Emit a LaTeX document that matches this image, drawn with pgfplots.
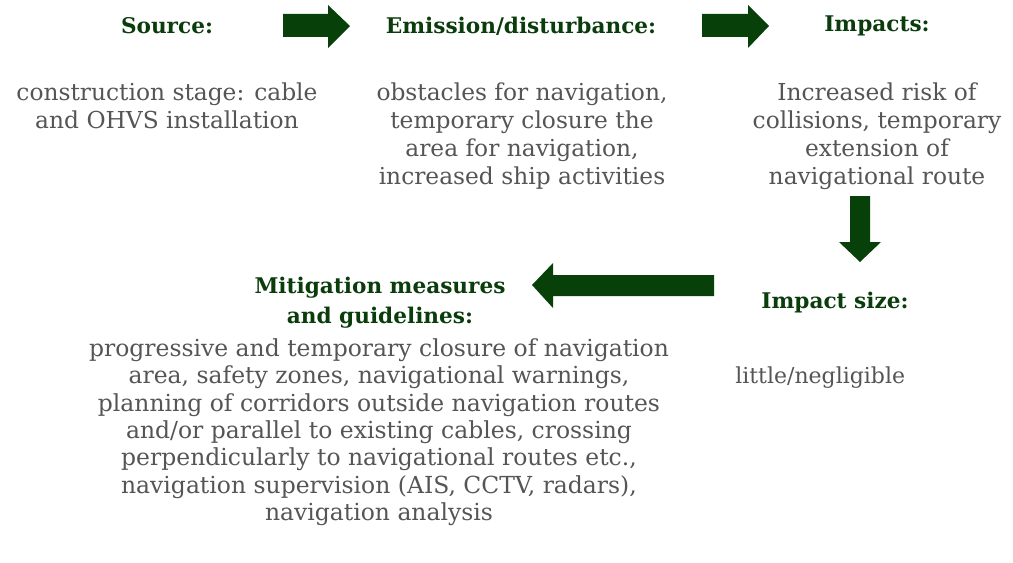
\documentclass[border=0pt]{standalone}
\usepackage{pgfplots}
\pgfplotsset{compat=1.18}
\usepackage{fontspec}
\setmainfont{DejaVu Serif}
\definecolor{hgreen}{RGB}{10,60,12}
\definecolor{agreen}{RGB}{8,64,10}
\definecolor{tgray}{RGB}{85,85,85}
\begin{document}
\begin{tikzpicture}
\begin{axis}[
  width=759.75pt, height=422.25pt, scale only axis,
  xmin=0, xmax=1013, ymin=0, ymax=563, y dir=reverse,
  hide axis, clip=false,
]
% invisible frame
\addplot[draw=none] coordinates {(0,0) (1013,563)};
% arrows
\addplot[fill=agreen, draw=none] coordinates {(283,14) (328,14) (328,5) (350,26) (328,48) (328,37) (283,37)} -- cycle;
\addplot[fill=agreen, draw=none] coordinates {(702,14) (748,14) (748,5) (769,26) (748,48) (748,37) (702,37)} -- cycle;
\addplot[fill=agreen, draw=none] coordinates {(850,196) (870,196) (870,242) (881,242) (860,262) (839,242) (850,242)} -- cycle;
\addplot[fill=agreen, draw=none] coordinates {(714,275) (553,275) (553,263) (532,285) (553,308) (553,296) (714,296)} -- cycle;
% headings
\tikzset{hd/.style={font=\fontsize{16.2}{22.5}\selectfont\bfseries, text=hgreen, align=center, inner sep=0pt, anchor=center}}
\tikzset{bd/.style={font=\fontsize{17.5}{21}\selectfont, text=tgray, align=center, inner sep=0pt}}
\node[hd] at (axis cs:167,26) {Source:};
\node[hd] at (axis cs:521,26) {Emission/disturbance:};
\node[hd] at (axis cs:877,26) {Impacts:};
\node[hd] at (axis cs:835,303) {Impact size:};
\node[hd] at (axis cs:380,303) {Mitigation measures\\and guidelines:};
% body
\node[bd, anchor=north] at (axis cs:167,83) {construction stage: cable\\and OHVS installation};
\node[bd, anchor=north] at (axis cs:522,83) {obstacles for navigation,\\temporary closure the\\area for navigation,\\increased ship activities};
\node[bd, anchor=north] at (axis cs:877,83) {Increased risk of\\collisions, temporary\\extension of\\navigational route};
\node[bd, anchor=west, font=\fontsize{16.5}{21}\selectfont] at (axis cs:735,378) {little/negligible};
\node[bd, anchor=north, font=\fontsize{17.6}{20.5}\selectfont] at (axis cs:379,338.5) {progressive and temporary closure of navigation\\area, safety zones, navigational warnings,\\planning of corridors outside navigation routes\\and/or parallel to existing cables, crossing\\perpendicularly to navigational routes etc.,\\navigation supervision (AIS, CCTV, radars),\\navigation analysis};
\end{axis}
\end{tikzpicture}
\end{document}
